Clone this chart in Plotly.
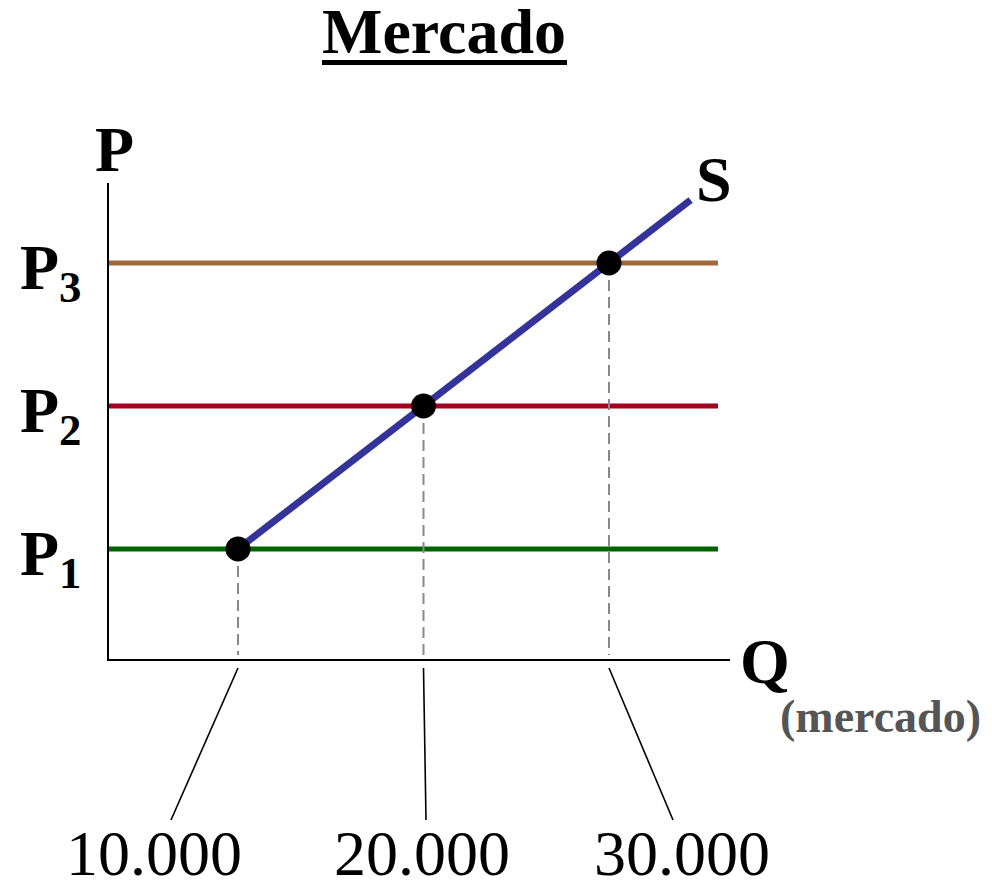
import plotly.graph_objects as go

# --- data -------------------------------------------------------------
quantities = [10000, 20000, 30000]          # market quantity at each price
prices = [1, 2, 3]                           # P1, P2, P3
quantity_labels = ["10.000", "20.000", "30.000"]
price_labels = ["P<sub>1</sub>", "P<sub>2</sub>", "P<sub>3</sub>"]
price_colors = ["#006400", "#a3001f", "#9e6a38"]
supply_q = [10000, 34400]                    # drawn extent of the supply curve
supply_p = [1.0, 3.44]

# --- canvas / axis calibration ---------------------------------------
W, H = 992, 882
PX_PER_Q = (609 - 238) / 20000
X0_PX = 238 - 10000 * PX_PER_Q
PX_PER_P = (549 - 263) / 2
Y0_PX = 549 + PX_PER_P

def q_at(px):
    return (px - X0_PX) / PX_PER_Q

def p_at(py):
    return (Y0_PX - py) / PX_PER_P

q_origin, p_origin = q_at(108), p_at(660)
q_axis_end, p_axis_top = q_at(730), p_at(183)
q_line_end = q_at(718)

SERIF = "Liberation Serif, Times New Roman, serif"

fig = go.Figure()

# price levels
for p, c in zip(prices, price_colors):
    fig.add_trace(go.Scatter(x=[q_origin, q_line_end], y=[p, p], mode="lines",
                             line=dict(color=c, width=5), hoverinfo="skip"))

# dashed drop lines from each equilibrium point to the Q axis
for q, p in zip(quantities, prices):
    fig.add_trace(go.Scatter(x=[q, q], y=[p, p_at(655)], mode="lines",
                             line=dict(color="#888888", width=2, dash="11px,6px"),
                             hoverinfo="skip"))

# supply curve
fig.add_trace(go.Scatter(x=supply_q, y=supply_p, mode="lines",
                         line=dict(color="#333399", width=7), hoverinfo="skip"))

# equilibrium points
fig.add_trace(go.Scatter(x=quantities, y=prices, mode="markers",
                         marker=dict(color="black", size=25), hoverinfo="skip"))

# axes
fig.add_trace(go.Scatter(x=[q_origin, q_origin, q_axis_end],
                         y=[p_axis_top, p_origin, p_origin], mode="lines",
                         line=dict(color="black", width=2), hoverinfo="skip"))

# leader lines from the axis down to the quantity labels
label_center_px = [154, 422, 682]
leader_bottom_px = [171, 426, 673]
for q, bx in zip(quantities, leader_bottom_px):
    fig.add_trace(go.Scatter(x=[q, q_at(bx)], y=[p_at(668), p_at(820)], mode="lines",
                             line=dict(color="black", width=1.6), hoverinfo="skip"))

def text(s, x_px, y_px, size, color="black", xanchor="center"):
    fig.add_annotation(text=s, x=x_px / W, y=1 - y_px / H, xref="paper", yref="paper",
                       xanchor=xanchor, yanchor="middle", showarrow=False,
                       font=dict(family=SERIF, size=size, color=color))

text("<b>Mercado</b>", 444, 32, 64)
text("<b>P</b>", 114, 149, 64)
text("<b>S</b>", 714, 179, 64)
text("<b>Q</b>", 765, 661, 64)
text("<b>(mercado)</b>", 880, 716, 46, color="#555555")

for lab, p in zip(price_labels, prices):
    py = Y0_PX - p * PX_PER_P
    text("<b>" + lab + "</b>", 84, py + 9, 64, xanchor="right")

for lab, cx in zip(quantity_labels, label_center_px):
    text(lab, cx, 853, 64)

# title underline
fig.add_shape(type="line", xref="paper", yref="paper",
              x0=322 / W, x1=567 / W, y0=1 - 62.5 / H, y1=1 - 62.5 / H,
              line=dict(color="black", width=5))

fig.update_layout(
    width=W, height=H, margin=dict(l=0, r=0, t=0, b=0),
    plot_bgcolor="white", paper_bgcolor="white", showlegend=False,
    xaxis=dict(range=[q_at(0), q_at(W)], visible=False, fixedrange=True),
    yaxis=dict(range=[p_at(H), p_at(0)], visible=False, fixedrange=True),
)

fig.write_html("out.html")
